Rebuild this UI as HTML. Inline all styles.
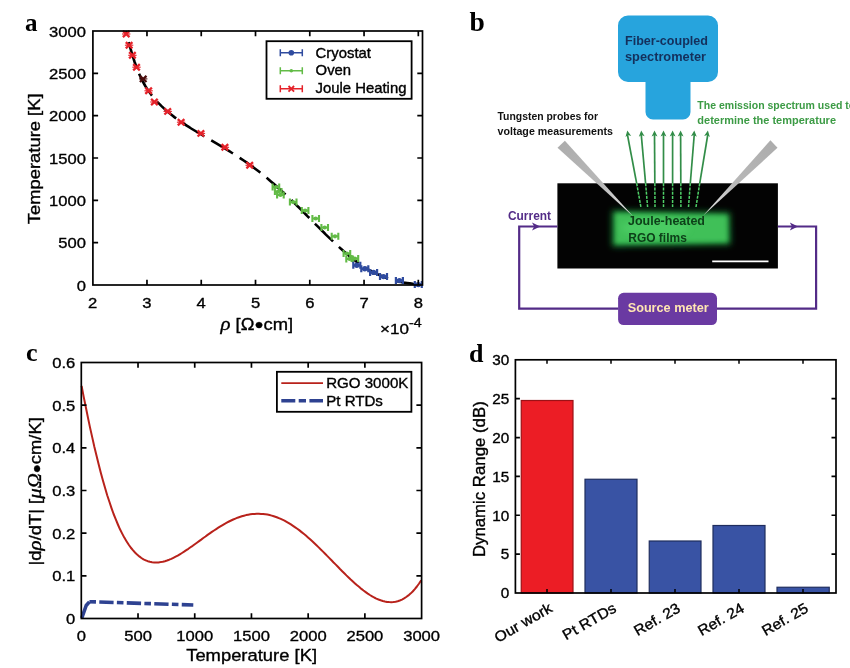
<!DOCTYPE html>
<html lang="en"><head><meta charset="utf-8"><title>Figure</title>
<style>html,body{margin:0;padding:0;background:#fff;}body{width:850px;height:668px;overflow:hidden;}svg{display:block;}</style>
</head><body>
<svg width="850" height="668" viewBox="0 0 850 668">
<defs><filter id="glow" x="-20%" y="-40%" width="140%" height="180%"><feGaussianBlur stdDeviation="3.4"/></filter><linearGradient id="pl" gradientUnits="userSpaceOnUse" x1="561" y1="144" x2="633" y2="215"><stop offset="0" stop-color="#adadad"/><stop offset="0.55" stop-color="#b8b8b8"/><stop offset="1" stop-color="#e6e6e6"/></linearGradient><linearGradient id="pr" gradientUnits="userSpaceOnUse" x1="770" y1="141" x2="703" y2="215"><stop offset="0" stop-color="#adadad"/><stop offset="0.55" stop-color="#b8b8b8"/><stop offset="1" stop-color="#e6e6e6"/></linearGradient><filter id="glow2" x="-20%" y="-40%" width="140%" height="180%"><feGaussianBlur stdDeviation="2"/></filter></defs>
<rect width="850" height="668" fill="#fff"/>
<path d="M125.8,31.1 L126.5,33.7 L127.2,36.5 L127.9,39.3 L128.7,42.1 L129.5,44.9 L130.3,47.8 L131.1,50.6 L131.9,53.5 L132.8,56.3 L133.7,59.2 L134.6,62.0 L135.6,64.8 L136.6,67.6 L137.7,70.4 L138.8,73.1 L140.0,75.8 L141.2,78.4 L142.5,81.0 L143.9,83.5 L145.3,86.0 L146.8,88.4 L148.4,90.8 L150.1,93.1 L151.8,95.4 L153.6,97.6 L155.4,99.8 L157.3,101.9 L159.3,103.9 L161.3,105.9 L163.4,107.9 L165.5,109.8 L167.7,111.7 L169.9,113.5 L172.1,115.3 L174.4,117.1 L176.7,118.8 L179.1,120.5 L181.5,122.1 L183.9,123.7 L186.3,125.3 L188.8,126.9 L191.2,128.5 L193.7,130.0 L196.2,131.5 L198.7,133.0 L201.2,134.5 L203.7,136.0 L206.3,137.5 L208.8,138.9 L211.3,140.4 L213.8,141.9 L216.4,143.4 L218.9,144.9 L221.4,146.4 L223.9,147.9 L226.4,149.4 L228.9,150.9 L231.4,152.5 L233.9,154.0 L236.3,155.6 L238.8,157.2 L241.2,158.8 L243.7,160.5 L246.1,162.1 L248.4,163.8 L250.8,165.5 L253.2,167.3 L255.5,169.0 L257.9,170.8 L260.2,172.6 L262.5,174.4 L264.7,176.2 L267.0,178.1 L269.2,180.0 L271.5,181.9 L273.7,183.8 L275.9,185.7 L278.1,187.7 L280.2,189.6 L282.4,191.6 L284.5,193.6 L286.6,195.6 L288.8,197.6 L290.9,199.6 L293.0,201.7 L295.0,203.7 L297.1,205.8 L299.2,207.8 L301.3,209.9 L303.3,211.9 L305.4,214.0 L307.4,216.1 L309.5,218.1 L311.5,220.2 L313.6,222.2 L315.6,224.3 L317.7,226.4 L319.7,228.4 L321.8,230.5 L323.9,232.5 L325.9,234.6 L328.0,236.6 L330.1,238.6 L332.2,240.6 L334.3,242.7 L336.4,244.6 L338.6,246.6 L340.7,248.6 L342.9,250.5 L345.1,252.4 L347.3,254.3 L349.6,256.2 L351.9,258.0 L354.1,259.8 L356.5,261.6 L358.8,263.3 L361.2,264.9 L363.6,266.5 L366.1,268.1 L368.6,269.6 L371.1,271.0 L373.7,272.3 L376.3,273.6 L378.9,274.9 L381.6,276.0 L384.3,277.1 L387.0,278.1 L389.8,279.0 L392.6,279.9 L395.4,280.7 L398.3,281.4 L401.1,282.0 L404.0,282.6 L406.9,283.0 L409.8,283.4 L412.8,283.8 L415.7,284.0 L418.6,284.2 L421.6,284.3" fill="none" stroke="#000" stroke-width="2.6" stroke-dasharray="25.4,8" stroke-dashoffset="22.1"/>
<path d="M122.90,30.90l6.6,6.2 M122.90,37.10l6.6,-6.2" stroke="#e5222a" stroke-width="2.3" fill="none"/>
<path d="M122.00,34.00h8.4" stroke="#e5222a" stroke-width="1.1" fill="none"/>
<path d="M125.80,42.10l6.6,6.2 M125.80,48.30l6.6,-6.2" stroke="#e5222a" stroke-width="2.3" fill="none"/>
<path d="M124.90,45.20h8.4" stroke="#e5222a" stroke-width="1.1" fill="none"/>
<path d="M129.10,52.20l6.6,6.2 M129.10,58.40l6.6,-6.2" stroke="#e5222a" stroke-width="2.3" fill="none"/>
<path d="M128.20,55.30h8.4" stroke="#e5222a" stroke-width="1.1" fill="none"/>
<path d="M133.20,64.10l6.6,6.2 M133.20,70.30l6.6,-6.2" stroke="#e5222a" stroke-width="2.3" fill="none"/>
<path d="M132.30,67.20h8.4" stroke="#e5222a" stroke-width="1.1" fill="none"/>
<path d="M139.90,75.80l6.6,6.2 M139.90,82.00l6.6,-6.2" stroke="#4a0d0d" stroke-width="2.3" fill="none"/>
<path d="M139.00,78.90h8.4" stroke="#4a0d0d" stroke-width="1.1" fill="none"/>
<path d="M145.30,87.70l6.6,6.2 M145.30,93.90l6.6,-6.2" stroke="#e5222a" stroke-width="2.3" fill="none"/>
<path d="M144.40,90.80h8.4" stroke="#e5222a" stroke-width="1.1" fill="none"/>
<path d="M151.10,98.90l6.6,6.2 M151.10,105.10l6.6,-6.2" stroke="#e5222a" stroke-width="2.3" fill="none"/>
<path d="M150.20,102.00h8.4" stroke="#e5222a" stroke-width="1.1" fill="none"/>
<path d="M164.40,108.30l6.6,6.2 M164.40,114.50l6.6,-6.2" stroke="#e5222a" stroke-width="2.3" fill="none"/>
<path d="M163.50,111.40h8.4" stroke="#e5222a" stroke-width="1.1" fill="none"/>
<path d="M177.80,119.10l6.6,6.2 M177.80,125.30l6.6,-6.2" stroke="#e5222a" stroke-width="2.3" fill="none"/>
<path d="M176.90,122.20h8.4" stroke="#e5222a" stroke-width="1.1" fill="none"/>
<path d="M197.60,130.30l6.6,6.2 M197.60,136.50l6.6,-6.2" stroke="#e5222a" stroke-width="2.3" fill="none"/>
<path d="M196.70,133.40h8.4" stroke="#e5222a" stroke-width="1.1" fill="none"/>
<path d="M221.60,144.20l6.6,6.2 M221.60,150.40l6.6,-6.2" stroke="#e5222a" stroke-width="2.3" fill="none"/>
<path d="M220.70,147.30h8.4" stroke="#e5222a" stroke-width="1.1" fill="none"/>
<path d="M246.40,162.20l6.6,6.2 M246.40,168.40l6.6,-6.2" stroke="#e5222a" stroke-width="2.3" fill="none"/>
<path d="M245.50,165.30h8.4" stroke="#e5222a" stroke-width="1.1" fill="none"/>
<path d="M272.60,187.10h6.60 M272.60,183.60v7.00 M279.20,183.60v7.00" stroke="#62bb46" stroke-width="2.10" fill="none"/>
<circle cx="275.90" cy="187.10" r="2.1" fill="#62bb46"/>
<path d="M274.90,191.50h6.60 M274.90,188.00v7.00 M281.50,188.00v7.00" stroke="#62bb46" stroke-width="2.10" fill="none"/>
<circle cx="278.20" cy="191.50" r="2.1" fill="#62bb46"/>
<path d="M277.10,194.90h6.60 M277.10,191.40v7.00 M283.70,191.40v7.00" stroke="#62bb46" stroke-width="2.10" fill="none"/>
<circle cx="280.40" cy="194.90" r="2.1" fill="#62bb46"/>
<path d="M289.90,202.10h6.60 M289.90,198.60v7.00 M296.50,198.60v7.00" stroke="#62bb46" stroke-width="2.10" fill="none"/>
<circle cx="293.20" cy="202.10" r="2.1" fill="#62bb46"/>
<path d="M301.80,210.60h6.60 M301.80,207.10v7.00 M308.40,207.10v7.00" stroke="#62bb46" stroke-width="2.10" fill="none"/>
<circle cx="305.10" cy="210.60" r="2.1" fill="#62bb46"/>
<path d="M312.40,218.50h6.60 M312.40,215.00v7.00 M319.00,215.00v7.00" stroke="#62bb46" stroke-width="2.10" fill="none"/>
<circle cx="315.70" cy="218.50" r="2.1" fill="#62bb46"/>
<path d="M321.40,227.50h6.60 M321.40,224.00v7.00 M328.00,224.00v7.00" stroke="#62bb46" stroke-width="2.10" fill="none"/>
<circle cx="324.70" cy="227.50" r="2.1" fill="#62bb46"/>
<path d="M331.70,236.30h6.60 M331.70,232.80v7.00 M338.30,232.80v7.00" stroke="#62bb46" stroke-width="2.10" fill="none"/>
<circle cx="335.00" cy="236.30" r="2.1" fill="#62bb46"/>
<path d="M343.60,253.50h6.60 M343.60,250.00v7.00 M350.20,250.00v7.00" stroke="#62bb46" stroke-width="2.10" fill="none"/>
<circle cx="346.90" cy="253.50" r="2.1" fill="#62bb46"/>
<path d="M346.30,258.90h6.60 M346.30,255.40v7.00 M352.90,255.40v7.00" stroke="#62bb46" stroke-width="2.10" fill="none"/>
<circle cx="349.60" cy="258.90" r="2.1" fill="#62bb46"/>
<path d="M351.60,258.60h6.60 M351.60,255.10v7.00 M358.20,255.10v7.00" stroke="#62bb46" stroke-width="2.10" fill="none"/>
<circle cx="354.90" cy="258.60" r="2.1" fill="#62bb46"/>
<path d="M353.30,265.30h7.00 M353.30,261.80v7.00 M360.30,261.80v7.00" stroke="#2f4b9f" stroke-width="2.20" fill="none"/>
<circle cx="356.80" cy="265.30" r="2.7" fill="#2f4b9f"/>
<path d="M361.30,268.80h7.00 M361.30,265.30v7.00 M368.30,265.30v7.00" stroke="#2f4b9f" stroke-width="2.20" fill="none"/>
<circle cx="364.80" cy="268.80" r="2.7" fill="#2f4b9f"/>
<path d="M370.10,272.40h7.00 M370.10,268.90v7.00 M377.10,268.90v7.00" stroke="#2f4b9f" stroke-width="2.20" fill="none"/>
<circle cx="373.60" cy="272.40" r="2.7" fill="#2f4b9f"/>
<path d="M380.00,276.60h7.00 M380.00,273.10v7.00 M387.00,273.10v7.00" stroke="#2f4b9f" stroke-width="2.20" fill="none"/>
<circle cx="383.50" cy="276.60" r="2.7" fill="#2f4b9f"/>
<path d="M395.90,280.60h7.00 M395.90,277.10v7.00 M402.90,277.10v7.00" stroke="#2f4b9f" stroke-width="2.20" fill="none"/>
<circle cx="399.40" cy="280.60" r="2.7" fill="#2f4b9f"/>
<path d="M414.80,284.60h7.00 M414.80,281.10v7.00 M421.80,281.10v7.00" stroke="#2f4b9f" stroke-width="2.20" fill="none"/>
<circle cx="418.30" cy="284.60" r="2.7" fill="#2f4b9f"/>
<g stroke="#000" stroke-width="1.70" fill="none"><rect x="92.90" y="31.00" width="329.60" height="254.00"/><path d="M146.97,285.00v-5.20 M146.97,31.00v5.20"/><path d="M201.24,285.00v-5.20 M201.24,31.00v5.20"/><path d="M255.51,285.00v-5.20 M255.51,31.00v5.20"/><path d="M309.78,285.00v-5.20 M309.78,31.00v5.20"/><path d="M364.05,285.00v-5.20 M364.05,31.00v5.20"/><path d="M418.32,285.00v-5.20 M418.32,31.00v5.20"/><path d="M92.90,242.67h5.20 M422.50,242.67h-5.20"/><path d="M92.90,200.33h5.20 M422.50,200.33h-5.20"/><path d="M92.90,158.00h5.20 M422.50,158.00h-5.20"/><path d="M92.90,115.67h5.20 M422.50,115.67h-5.20"/><path d="M92.90,73.33h5.20 M422.50,73.33h-5.20"/></g>
<text transform="translate(86.00,290.60) scale(1.070,1)" font-family="Liberation Sans, Arial, Helvetica, sans-serif" font-size="15.50" text-anchor="end" stroke="#000" stroke-width="0.35" >0</text>
<text transform="translate(86.00,248.27) scale(1.070,1)" font-family="Liberation Sans, Arial, Helvetica, sans-serif" font-size="15.50" text-anchor="end" stroke="#000" stroke-width="0.35" >500</text>
<text transform="translate(86.00,205.93) scale(1.070,1)" font-family="Liberation Sans, Arial, Helvetica, sans-serif" font-size="15.50" text-anchor="end" stroke="#000" stroke-width="0.35" >1000</text>
<text transform="translate(86.00,163.60) scale(1.070,1)" font-family="Liberation Sans, Arial, Helvetica, sans-serif" font-size="15.50" text-anchor="end" stroke="#000" stroke-width="0.35" >1500</text>
<text transform="translate(86.00,121.27) scale(1.070,1)" font-family="Liberation Sans, Arial, Helvetica, sans-serif" font-size="15.50" text-anchor="end" stroke="#000" stroke-width="0.35" >2000</text>
<text transform="translate(86.00,78.93) scale(1.070,1)" font-family="Liberation Sans, Arial, Helvetica, sans-serif" font-size="15.50" text-anchor="end" stroke="#000" stroke-width="0.35" >2500</text>
<text transform="translate(86.00,36.60) scale(1.070,1)" font-family="Liberation Sans, Arial, Helvetica, sans-serif" font-size="15.50" text-anchor="end" stroke="#000" stroke-width="0.35" >3000</text>
<text transform="translate(92.70,308.20) scale(1.070,1)" font-family="Liberation Sans, Arial, Helvetica, sans-serif" font-size="15.50" text-anchor="middle" stroke="#000" stroke-width="0.35" >2</text>
<text transform="translate(146.97,308.20) scale(1.070,1)" font-family="Liberation Sans, Arial, Helvetica, sans-serif" font-size="15.50" text-anchor="middle" stroke="#000" stroke-width="0.35" >3</text>
<text transform="translate(201.24,308.20) scale(1.070,1)" font-family="Liberation Sans, Arial, Helvetica, sans-serif" font-size="15.50" text-anchor="middle" stroke="#000" stroke-width="0.35" >4</text>
<text transform="translate(255.51,308.20) scale(1.070,1)" font-family="Liberation Sans, Arial, Helvetica, sans-serif" font-size="15.50" text-anchor="middle" stroke="#000" stroke-width="0.35" >5</text>
<text transform="translate(309.78,308.20) scale(1.070,1)" font-family="Liberation Sans, Arial, Helvetica, sans-serif" font-size="15.50" text-anchor="middle" stroke="#000" stroke-width="0.35" >6</text>
<text transform="translate(364.05,308.20) scale(1.070,1)" font-family="Liberation Sans, Arial, Helvetica, sans-serif" font-size="15.50" text-anchor="middle" stroke="#000" stroke-width="0.35" >7</text>
<text transform="translate(418.32,308.20) scale(1.070,1)" font-family="Liberation Sans, Arial, Helvetica, sans-serif" font-size="15.50" text-anchor="middle" stroke="#000" stroke-width="0.35" >8</text>
<text transform="translate(40.30,158.80) rotate(-90) scale(1.070,1)" font-family="Liberation Sans, Arial, Helvetica, sans-serif" font-size="17.20" text-anchor="middle" stroke="#000" stroke-width="0.35" >Temperature [K]</text>
<text transform="translate(256.80,329.60) scale(1.070,1)" font-family="Liberation Sans, Arial, Helvetica, sans-serif" font-size="17.20" text-anchor="middle" stroke="#000" stroke-width="0.35" ><tspan font-style="italic" font-family="Liberation Serif, serif" font-size="19.5">ρ</tspan> [Ω<tspan font-size="14" dy="-0.5">●</tspan><tspan dy="0.5">cm]</tspan></text>
<text transform="translate(380.00,333.70) scale(1.100,1)" font-family="Liberation Sans, Arial, Helvetica, sans-serif" font-size="15.50" text-anchor="start" stroke="#000" stroke-width="0.35" >×10<tspan font-size="13" dy="-6.5">-4</tspan></text>
<rect x="266.5" y="41.2" width="145.1" height="57.6" fill="#fff" stroke="#000" stroke-width="1.8"/>
<path d="M280.3,52.80h22 M280.3,49.30v7 M302.3,49.30v7" stroke="#2f4b9f" stroke-width="1.5" fill="none"/>
<circle cx="291.3" cy="52.80" r="2.8" fill="#2f4b9f"/>
<text transform="translate(315.60,57.60) scale(1.070,1)" font-family="Liberation Sans, Arial, Helvetica, sans-serif" font-size="13.90" text-anchor="start" stroke="#000" stroke-width="0.35" >Cryostat</text>
<path d="M280.3,70.80h22 M280.3,67.30v7 M302.3,67.30v7" stroke="#62bb46" stroke-width="1.5" fill="none"/>
<circle cx="291.3" cy="70.80" r="1.8" fill="#62bb46"/>
<text transform="translate(315.60,75.30) scale(1.070,1)" font-family="Liberation Sans, Arial, Helvetica, sans-serif" font-size="13.90" text-anchor="start" stroke="#000" stroke-width="0.35" >Oven</text>
<path d="M280.3,88.80h22 M280.3,85.30v7 M302.3,85.30v7" stroke="#e5222a" stroke-width="1.5" fill="none"/>
<path d="M288.5,86.00l5.6,5.6 M288.5,91.60l5.6,-5.6" stroke="#e5222a" stroke-width="1.8" fill="none"/>
<text transform="translate(315.60,93.00) scale(1.070,1)" font-family="Liberation Sans, Arial, Helvetica, sans-serif" font-size="13.90" text-anchor="start" stroke="#000" stroke-width="0.35" >Joule Heating</text>
<text x="25" y="30.7" font-family="Liberation Serif, Times New Roman, serif" font-size="25" font-weight="bold">a</text>
<path d="M81.6,385.9 L83.7,396.9 L85.9,407.5 L88.0,417.9 L90.1,427.9 L92.3,437.6 L94.4,447.0 L96.6,455.9 L98.7,464.6 L100.8,472.8 L103.0,480.7 L105.1,488.1 L107.2,495.2 L109.4,501.8 L111.5,508.1 L113.6,514.0 L115.8,519.4 L117.9,524.5 L120.0,529.3 L122.2,533.6 L124.3,537.6 L126.5,541.2 L128.6,544.5 L130.7,547.5 L132.9,550.2 L135.0,552.5 L137.1,554.6 L139.3,556.4 L141.4,558.0 L143.5,559.3 L145.7,560.3 L147.8,561.2 L149.9,561.8 L152.1,562.2 L154.2,562.5 L156.4,562.5 L158.5,562.4 L160.6,562.1 L162.8,561.7 L164.9,561.2 L167.0,560.5 L169.2,559.7 L171.3,558.8 L173.4,557.8 L175.6,556.7 L177.7,555.6 L179.8,554.3 L182.0,553.0 L184.1,551.7 L186.3,550.2 L188.4,548.8 L190.5,547.3 L192.7,545.8 L194.8,544.2 L196.9,542.7 L199.1,541.1 L201.2,539.6 L203.3,538.0 L205.5,536.5 L207.6,534.9 L209.8,533.4 L211.9,531.9 L214.0,530.5 L216.2,529.1 L218.3,527.7 L220.4,526.4 L222.6,525.1 L224.7,523.8 L226.8,522.7 L229.0,521.5 L231.1,520.5 L233.2,519.5 L235.4,518.6 L237.5,517.7 L239.7,517.0 L241.8,516.3 L243.9,515.7 L246.1,515.1 L248.2,514.7 L250.3,514.3 L252.5,514.1 L254.6,513.9 L256.7,513.8 L258.9,513.8 L261.0,513.9 L263.1,514.0 L265.3,514.3 L267.4,514.6 L269.6,515.1 L271.7,515.6 L273.8,516.3 L276.0,517.0 L278.1,517.8 L280.2,518.7 L282.4,519.7 L284.5,520.7 L286.6,521.9 L288.8,523.1 L290.9,524.4 L293.0,525.8 L295.2,527.3 L297.3,528.8 L299.5,530.4 L301.6,532.1 L303.7,533.8 L305.9,535.6 L308.0,537.4 L310.1,539.3 L312.3,541.3 L314.4,543.3 L316.5,545.3 L318.7,547.4 L320.8,549.5 L323.0,551.6 L325.1,553.7 L327.2,555.9 L329.4,558.1 L331.5,560.3 L333.6,562.5 L335.8,564.6 L337.9,566.8 L340.0,569.0 L342.2,571.2 L344.3,573.3 L346.4,575.4 L348.6,577.5 L350.7,579.5 L352.9,581.5 L355.0,583.4 L357.1,585.3 L359.3,587.1 L361.4,588.9 L363.5,590.5 L365.7,592.1 L367.8,593.6 L369.9,595.0 L372.1,596.3 L374.2,597.5 L376.3,598.6 L378.5,599.5 L380.6,600.3 L382.8,601.0 L384.9,601.5 L387.0,601.9 L389.2,602.1 L391.3,602.2 L393.4,602.0 L395.6,601.7 L397.7,601.2 L399.8,600.5 L402.0,599.6 L404.1,598.4 L406.2,597.0 L408.4,595.4 L410.5,593.6 L412.7,591.5 L414.8,589.1 L416.9,586.5 L419.1,583.5 L421.2,580.3" fill="none" stroke="#b8221b" stroke-width="2" stroke-linejoin="round"/>
<path d="M81.8,618 L86.2,605.5 L89.4,601.9" fill="none" stroke="#2e4291" stroke-width="3.6" stroke-linejoin="round"/>
<path d="M89.4,601.7 L193.3,605" fill="none" stroke="#2e4291" stroke-width="3.6" stroke-dasharray="6.6,3.3,14.3,3.3"/>
<g stroke="#000" stroke-width="1.70" fill="none"><rect x="81.30" y="362.50" width="340.30" height="256.00"/><path d="M138.02,618.50v-5.20 M138.02,362.50v5.20"/><path d="M194.73,618.50v-5.20 M194.73,362.50v5.20"/><path d="M251.45,618.50v-5.20 M251.45,362.50v5.20"/><path d="M308.17,618.50v-5.20 M308.17,362.50v5.20"/><path d="M364.88,618.50v-5.20 M364.88,362.50v5.20"/><path d="M81.30,575.83h5.20 M421.60,575.83h-5.20"/><path d="M81.30,533.17h5.20 M421.60,533.17h-5.20"/><path d="M81.30,490.50h5.20 M421.60,490.50h-5.20"/><path d="M81.30,447.83h5.20 M421.60,447.83h-5.20"/><path d="M81.30,405.17h5.20 M421.60,405.17h-5.20"/></g>
<text transform="translate(75.30,624.10) scale(1.070,1)" font-family="Liberation Sans, Arial, Helvetica, sans-serif" font-size="15.50" text-anchor="end" stroke="#000" stroke-width="0.35" >0</text>
<text transform="translate(75.30,581.43) scale(1.070,1)" font-family="Liberation Sans, Arial, Helvetica, sans-serif" font-size="15.50" text-anchor="end" stroke="#000" stroke-width="0.35" >0.1</text>
<text transform="translate(75.30,538.77) scale(1.070,1)" font-family="Liberation Sans, Arial, Helvetica, sans-serif" font-size="15.50" text-anchor="end" stroke="#000" stroke-width="0.35" >0.2</text>
<text transform="translate(75.30,496.10) scale(1.070,1)" font-family="Liberation Sans, Arial, Helvetica, sans-serif" font-size="15.50" text-anchor="end" stroke="#000" stroke-width="0.35" >0.3</text>
<text transform="translate(75.30,453.43) scale(1.070,1)" font-family="Liberation Sans, Arial, Helvetica, sans-serif" font-size="15.50" text-anchor="end" stroke="#000" stroke-width="0.35" >0.4</text>
<text transform="translate(75.30,410.77) scale(1.070,1)" font-family="Liberation Sans, Arial, Helvetica, sans-serif" font-size="15.50" text-anchor="end" stroke="#000" stroke-width="0.35" >0.5</text>
<text transform="translate(75.30,368.10) scale(1.070,1)" font-family="Liberation Sans, Arial, Helvetica, sans-serif" font-size="15.50" text-anchor="end" stroke="#000" stroke-width="0.35" >0.6</text>
<text transform="translate(81.30,640.60) scale(1.070,1)" font-family="Liberation Sans, Arial, Helvetica, sans-serif" font-size="15.50" text-anchor="middle" stroke="#000" stroke-width="0.35" >0</text>
<text transform="translate(138.02,640.60) scale(1.070,1)" font-family="Liberation Sans, Arial, Helvetica, sans-serif" font-size="15.50" text-anchor="middle" stroke="#000" stroke-width="0.35" >500</text>
<text transform="translate(194.73,640.60) scale(1.070,1)" font-family="Liberation Sans, Arial, Helvetica, sans-serif" font-size="15.50" text-anchor="middle" stroke="#000" stroke-width="0.35" >1000</text>
<text transform="translate(251.45,640.60) scale(1.070,1)" font-family="Liberation Sans, Arial, Helvetica, sans-serif" font-size="15.50" text-anchor="middle" stroke="#000" stroke-width="0.35" >1500</text>
<text transform="translate(308.17,640.60) scale(1.070,1)" font-family="Liberation Sans, Arial, Helvetica, sans-serif" font-size="15.50" text-anchor="middle" stroke="#000" stroke-width="0.35" >2000</text>
<text transform="translate(364.88,640.60) scale(1.070,1)" font-family="Liberation Sans, Arial, Helvetica, sans-serif" font-size="15.50" text-anchor="middle" stroke="#000" stroke-width="0.35" >2500</text>
<text transform="translate(421.60,640.60) scale(1.070,1)" font-family="Liberation Sans, Arial, Helvetica, sans-serif" font-size="15.50" text-anchor="middle" stroke="#000" stroke-width="0.35" >3000</text>
<text transform="translate(251.60,661.00) scale(1.070,1)" font-family="Liberation Sans, Arial, Helvetica, sans-serif" font-size="17.20" text-anchor="middle" stroke="#000" stroke-width="0.35" >Temperature [K]</text>
<text transform="translate(41.00,491.30) rotate(-90) scale(1.070,1)" font-family="Liberation Sans, Arial, Helvetica, sans-serif" font-size="17.20" text-anchor="middle" stroke="#000" stroke-width="0.35" >|d<tspan font-style="italic" font-family="Liberation Serif, serif" font-size="19.5">ρ</tspan>/dT| [<tspan font-style="italic" font-family="Liberation Serif, serif" font-size="19.5">μΩ</tspan><tspan font-size="14" dy="-0.5">●</tspan><tspan dy="0.5">cm/K]</tspan></text>
<rect x="276.9" y="371.8" width="134.5" height="40" fill="#fff" stroke="#000" stroke-width="1.8"/>
<path d="M281.3,383.2H323" stroke="#b8221b" stroke-width="1.8"/>
<path d="M281.3,400.8H323" stroke="#2e4291" stroke-width="3.4" stroke-dasharray="14,3.4,7.3,3.4"/>
<text transform="translate(326.20,388.30) scale(1.070,1)" font-family="Liberation Sans, Arial, Helvetica, sans-serif" font-size="14.10" text-anchor="start" stroke="#000" stroke-width="0.35" >RGO 3000K</text>
<text transform="translate(326.20,405.70) scale(1.070,1)" font-family="Liberation Sans, Arial, Helvetica, sans-serif" font-size="14.10" text-anchor="start" stroke="#000" stroke-width="0.35" >Pt RTDs</text>
<text x="26" y="361.3" font-family="Liberation Serif, Times New Roman, serif" font-size="26" font-weight="bold">c</text>
<rect x="521.25" y="400.50" width="51.75" height="192.50" fill="#ec1d25" stroke="#9c1116" stroke-width="1.2"/>
<rect x="585.00" y="479.25" width="52.00" height="113.75" fill="#3953a4" stroke="#1f2d5e" stroke-width="1.2"/>
<rect x="649.25" y="541.00" width="51.75" height="52.00" fill="#3953a4" stroke="#1f2d5e" stroke-width="1.2"/>
<rect x="713.00" y="525.50" width="52.00" height="67.50" fill="#3953a4" stroke="#1f2d5e" stroke-width="1.2"/>
<rect x="777.00" y="587.25" width="52.25" height="5.75" fill="#3953a4" stroke="#1f2d5e" stroke-width="1.2"/>
<g stroke="#000" stroke-width="1.70" fill="none"><rect x="515.40" y="359.80" width="320.60" height="233.20"/><path d="M515.40,554.13h4.50 M836.00,554.13h-4.50"/><path d="M515.40,515.27h4.50 M836.00,515.27h-4.50"/><path d="M515.40,476.40h4.50 M836.00,476.40h-4.50"/><path d="M515.40,437.53h4.50 M836.00,437.53h-4.50"/><path d="M515.40,398.67h4.50 M836.00,398.67h-4.50"/></g>
<g stroke="#000" stroke-width="1.5"><path d="M547.00,359.80v4 M547.00,593.00v-4"/><path d="M611.00,359.80v4 M611.00,593.00v-4"/><path d="M675.00,359.80v4 M675.00,593.00v-4"/><path d="M739.00,359.80v4 M739.00,593.00v-4"/><path d="M803.00,359.80v4 M803.00,593.00v-4"/></g>
<text transform="translate(509.30,598.30) scale(1.070,1)" font-family="Liberation Sans, Arial, Helvetica, sans-serif" font-size="14.30" text-anchor="end" stroke="#000" stroke-width="0.35" >0</text>
<text transform="translate(509.30,559.43) scale(1.070,1)" font-family="Liberation Sans, Arial, Helvetica, sans-serif" font-size="14.30" text-anchor="end" stroke="#000" stroke-width="0.35" >5</text>
<text transform="translate(509.30,520.57) scale(1.070,1)" font-family="Liberation Sans, Arial, Helvetica, sans-serif" font-size="14.30" text-anchor="end" stroke="#000" stroke-width="0.35" >10</text>
<text transform="translate(509.30,481.70) scale(1.070,1)" font-family="Liberation Sans, Arial, Helvetica, sans-serif" font-size="14.30" text-anchor="end" stroke="#000" stroke-width="0.35" >15</text>
<text transform="translate(509.30,442.83) scale(1.070,1)" font-family="Liberation Sans, Arial, Helvetica, sans-serif" font-size="14.30" text-anchor="end" stroke="#000" stroke-width="0.35" >20</text>
<text transform="translate(509.30,403.97) scale(1.070,1)" font-family="Liberation Sans, Arial, Helvetica, sans-serif" font-size="14.30" text-anchor="end" stroke="#000" stroke-width="0.35" >25</text>
<text transform="translate(509.30,365.10) scale(1.070,1)" font-family="Liberation Sans, Arial, Helvetica, sans-serif" font-size="14.30" text-anchor="end" stroke="#000" stroke-width="0.35" >30</text>
<text transform="translate(553.30,611.00) rotate(-30) scale(1.070,1)" font-family="Liberation Sans, Arial, Helvetica, sans-serif" font-size="14.70" text-anchor="end" stroke="#000" stroke-width="0.35" >Our work</text>
<text transform="translate(617.30,611.00) rotate(-30) scale(1.070,1)" font-family="Liberation Sans, Arial, Helvetica, sans-serif" font-size="14.70" text-anchor="end" stroke="#000" stroke-width="0.35" >Pt RTDs</text>
<text transform="translate(681.30,611.00) rotate(-30) scale(1.070,1)" font-family="Liberation Sans, Arial, Helvetica, sans-serif" font-size="14.70" text-anchor="end" stroke="#000" stroke-width="0.35" >Ref. 23</text>
<text transform="translate(745.30,611.00) rotate(-30) scale(1.070,1)" font-family="Liberation Sans, Arial, Helvetica, sans-serif" font-size="14.70" text-anchor="end" stroke="#000" stroke-width="0.35" >Ref. 24</text>
<text transform="translate(809.30,611.00) rotate(-30) scale(1.070,1)" font-family="Liberation Sans, Arial, Helvetica, sans-serif" font-size="14.70" text-anchor="end" stroke="#000" stroke-width="0.35" >Ref. 25</text>
<text transform="translate(485.00,479.20) rotate(-90) scale(1.070,1)" font-family="Liberation Sans, Arial, Helvetica, sans-serif" font-size="15.70" text-anchor="middle" stroke="#000" stroke-width="0.35" >Dynamic Range (dB)</text>
<text x="469" y="361.5" font-family="Liberation Serif, Times New Roman, serif" font-size="26" font-weight="bold">d</text>
<text x="469.5" y="31.2" font-family="Liberation Serif, Times New Roman, serif" font-size="27.5" font-weight="bold">b</text>
<path d="M628,15.5H708a10,10 0 0 1 10,10V72a10,10 0 0 1 -10,10H690.5V112a7.5,7.5 0 0 1 -7.5,7.5H653a7.5,7.5 0 0 1 -7.5,-7.5V82H628a10,10 0 0 1 -10,-10V25.5a10,10 0 0 1 10,-10z" fill="#27a4dd"/>
<text x="625.00" y="45.00" font-family="Liberation Sans, Arial, Helvetica, sans-serif" font-size="13.2" font-weight="bold" fill="#14305c" textLength="83.0" lengthAdjust="spacingAndGlyphs" text-anchor="start">Fiber-coupled</text>
<text x="625.00" y="61.00" font-family="Liberation Sans, Arial, Helvetica, sans-serif" font-size="13.2" font-weight="bold" fill="#14305c" textLength="81.0" lengthAdjust="spacingAndGlyphs" text-anchor="start">spectrometer</text>
<text x="497.50" y="120.00" font-family="Liberation Sans, Arial, Helvetica, sans-serif" font-size="10.6" font-weight="bold" fill="#111" textLength="100.5" lengthAdjust="spacingAndGlyphs" text-anchor="start">Tungsten probes for</text>
<text x="497.50" y="134.50" font-family="Liberation Sans, Arial, Helvetica, sans-serif" font-size="10.6" font-weight="bold" fill="#111" textLength="115.5" lengthAdjust="spacingAndGlyphs" text-anchor="start">voltage measurements</text>
<text x="697.30" y="108.80" font-family="Liberation Sans, Arial, Helvetica, sans-serif" font-size="10.6" font-weight="bold" fill="#3c9b45" textLength="158.0" lengthAdjust="spacingAndGlyphs" text-anchor="start">The emission spectrum used to</text>
<text x="697.30" y="123.80" font-family="Liberation Sans, Arial, Helvetica, sans-serif" font-size="10.6" font-weight="bold" fill="#3c9b45" textLength="138.7" lengthAdjust="spacingAndGlyphs" text-anchor="start">determine the temperature</text>
<rect x="557.4" y="183.3" width="220.5" height="85.2" fill="#030303"/>
<path d="M612,210.5 L730,212.5 L730.5,244.5 L612,246.5z" fill="#1f8a38" filter="url(#glow)"/>
<path d="M615.5,213.5 L727,215.5 L727.5,241.8 L615.5,243.5z" fill="#41c058" filter="url(#glow2)"/>
<ellipse cx="655" cy="228" rx="34" ry="9" fill="#52d46c" opacity="0.55" filter="url(#glow)"/>
<path d="M627.30,134.00L636.66,183.30" stroke="#328d48" stroke-width="1.7"/>
<path d="M636.66,183.30L640.90,207.00" stroke="#4fd068" stroke-width="1.5" stroke-dasharray="3,1.2"/>
<path transform="translate(627.30,130.50) rotate(-10.15)" d="M0,0L2.9,6L0,4.6L-2.9,6z" fill="#328d48"/>
<path d="M641.20,134.00L645.60,183.30" stroke="#328d48" stroke-width="1.7"/>
<path d="M645.60,183.30L647.60,207.00" stroke="#4fd068" stroke-width="1.5" stroke-dasharray="3,1.2"/>
<path transform="translate(641.20,130.50) rotate(-4.81)" d="M0,0L2.9,6L0,4.6L-2.9,6z" fill="#328d48"/>
<path d="M654.50,134.00L654.84,183.30" stroke="#328d48" stroke-width="1.7"/>
<path d="M654.84,183.30L655.00,207.00" stroke="#4fd068" stroke-width="1.5" stroke-dasharray="3,1.2"/>
<path transform="translate(654.50,130.50) rotate(-0.38)" d="M0,0L2.9,6L0,4.6L-2.9,6z" fill="#328d48"/>
<path d="M663.50,134.00L663.50,183.30" stroke="#328d48" stroke-width="1.7"/>
<path d="M663.50,183.30L663.50,207.00" stroke="#4fd068" stroke-width="1.5" stroke-dasharray="3,1.2"/>
<path transform="translate(663.50,130.50) rotate(-0.00)" d="M0,0L2.9,6L0,4.6L-2.9,6z" fill="#328d48"/>
<path d="M672.60,134.00L672.60,183.30" stroke="#328d48" stroke-width="1.7"/>
<path d="M672.60,183.30L672.60,207.00" stroke="#4fd068" stroke-width="1.5" stroke-dasharray="3,1.2"/>
<path transform="translate(672.60,130.50) rotate(-0.00)" d="M0,0L2.9,6L0,4.6L-2.9,6z" fill="#328d48"/>
<path d="M680.60,134.00L680.81,183.30" stroke="#328d48" stroke-width="1.7"/>
<path d="M680.81,183.30L680.90,207.00" stroke="#4fd068" stroke-width="1.5" stroke-dasharray="3,1.2"/>
<path transform="translate(680.60,130.50) rotate(-0.23)" d="M0,0L2.9,6L0,4.6L-2.9,6z" fill="#328d48"/>
<path d="M694.30,134.00L690.31,183.30" stroke="#328d48" stroke-width="1.7"/>
<path d="M690.31,183.30L688.50,207.00" stroke="#4fd068" stroke-width="1.5" stroke-dasharray="3,1.2"/>
<path transform="translate(694.30,130.50) rotate(4.36)" d="M0,0L2.9,6L0,4.6L-2.9,6z" fill="#328d48"/>
<path d="M707.90,134.00L699.71,183.30" stroke="#328d48" stroke-width="1.7"/>
<path d="M699.71,183.30L696.00,207.00" stroke="#4fd068" stroke-width="1.5" stroke-dasharray="3,1.2"/>
<path transform="translate(707.90,130.50) rotate(8.90)" d="M0,0L2.9,6L0,4.6L-2.9,6z" fill="#328d48"/>
<path d="M557.5,147.8L564.9,140.7L633.3,216.5z" fill="url(#pl)"/>
<path d="M770.4,140.2L777.5,147.8L703.3,215.6z" fill="url(#pr)"/>
<text x="628.00" y="225.20" font-family="Liberation Sans, Arial, Helvetica, sans-serif" font-size="13.0" font-weight="bold" fill="#0d4019" textLength="77.0" lengthAdjust="spacingAndGlyphs" text-anchor="start">Joule-heated</text>
<text x="628.30" y="242.30" font-family="Liberation Sans, Arial, Helvetica, sans-serif" font-size="13.0" font-weight="bold" fill="#0d4019" textLength="58.5" lengthAdjust="spacingAndGlyphs" text-anchor="start">RGO films</text>
<path d="M712.2,261.4H768.5" stroke="#fff" stroke-width="1.8"/>
<path d="M557.4,226.5H519.2V308.6H618.5 M716.5,308.6H816.1V226.5H777.9" fill="none" stroke="#532b87" stroke-width="2.2"/>
<path d="M540.2,226.5l-8.2,-4l2.2,4l-2.2,4z M798,226.5l-8.2,-4l2.2,4l-2.2,4z" fill="#532b87"/>
<text x="508.00" y="220.10" font-family="Liberation Sans, Arial, Helvetica, sans-serif" font-size="12.4" font-weight="bold" fill="#532b87" textLength="43.0" lengthAdjust="spacingAndGlyphs" text-anchor="start">Current</text>
<rect x="618.1" y="292.8" width="98.9" height="32.2" rx="5.5" fill="#6a3aa2"/>
<text x="627.70" y="312.20" font-family="Liberation Sans, Arial, Helvetica, sans-serif" font-size="13.2" font-weight="bold" fill="#ffe6b3" textLength="81.0" lengthAdjust="spacingAndGlyphs" text-anchor="start">Source meter</text>
</svg>
</body></html>
